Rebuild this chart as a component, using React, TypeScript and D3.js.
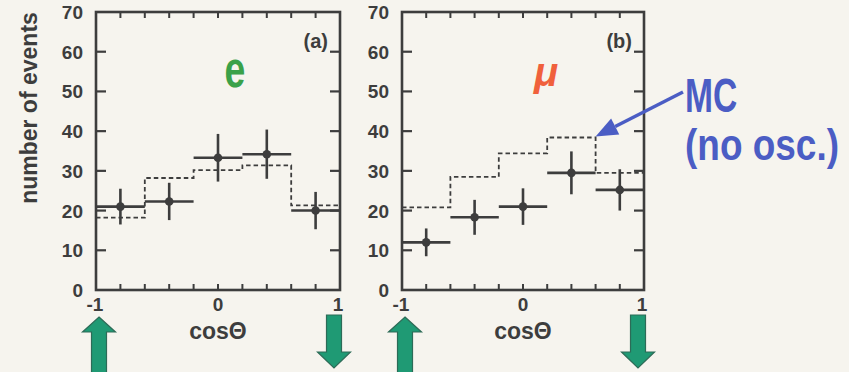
import React from "react";
import * as d3 from "d3";

const W = 849, H = 372;

// bin centers in cos(theta), width 0.4
const binCenters = [-0.8, -0.4, 0, 0.4, 0.8];
const binHalf = 0.2;

const eData = [21, 22.3, 33.3, 34.2, 20];
const eErr = [4.5, 4.7, 6, 6.2, 4.7];
const eMC = [18.2, 28.2, 30.2, 31.4, 21.3];

const muData = [12, 18.3, 21, 29.5, 25.2];
const muErr = [3.5, 4.4, 4.6, 5.4, 5.2];
const muMC = [20.8, 28.5, 34.4, 38.4, 29.5];

const yTicks = [0, 10, 20, 30, 40, 50, 60, 70];
const xLabelTicks = [-1, 0, 1];
const xMinorTicks = d3.range(-0.8, 0.81, 0.2);

const ink = "#3d3d3d";
const font = "'Liberation Sans', Arial, Helvetica, sans-serif";

const Arrow = ({ x, dir }: { x: number; dir: "up" | "down" }) => {
  // big green block arrows under the axis ends
  const sw = 7.5, hw = 16.5;
  const p = dir === "up"
    ? [[x, 317], [x + hw, 332], [x + sw, 332], [x + sw, 380], [x - sw, 380], [x - sw, 332], [x - hw, 332]]
    : [[x - sw, 315], [x + sw, 315], [x + sw, 352], [x + hw, 352], [x, 368], [x - hw, 352], [x - sw, 352]];
  return <polygon points={p.map(d => d.join(",")).join(" ")} fill="#1f9a74" stroke="#2d6b57" strokeWidth={1.2} />;
};

const Panel = ({ x0, x1, data, err, mc, tag }: any) => {
  const x = d3.scaleLinear().domain([-1, 1]).range([x0, x1]);
  const y = d3.scaleLinear().domain([0, 70]).range([290, 12]);

  const mcPts: [number, number][] = [];
  mc.forEach((v: number, i: number) => {
    mcPts.push([x(binCenters[i] - binHalf), y(v)]);
    mcPts.push([x(binCenters[i] + binHalf), y(v)]);
  });
  const mcPath = d3.line()(mcPts) || "";

  return (
    <g>
      {/* MC dashed histogram */}
      <path d={mcPath} fill="none" stroke={ink} strokeWidth={1.8} strokeDasharray="4.5,3" />

      {/* data points with errors */}
      {data.map((v: number, i: number) => (
        <g key={i}>
          <line x1={x(binCenters[i] - binHalf)} x2={x(binCenters[i] + binHalf)} y1={y(v)} y2={y(v)} stroke={ink} strokeWidth={2.6} />
          <line x1={x(binCenters[i])} x2={x(binCenters[i])} y1={y(v - err[i])} y2={y(v + err[i])} stroke={ink} strokeWidth={2.6} />
          <circle cx={x(binCenters[i])} cy={y(v)} r={4.3} fill={ink} />
        </g>
      ))}

      {/* frame */}
      <rect x={x0} y={12} width={x1 - x0} height={278} fill="none" stroke={ink} strokeWidth={2.6} />

      {/* y ticks both sides */}
      {yTicks.slice(1, -1).map(t => (
        <g key={t}>
          <line x1={x0} x2={x0 + 10} y1={y(t)} y2={y(t)} stroke={ink} strokeWidth={2.2} />
          <line x1={x1} x2={x1 - 10} y1={y(t)} y2={y(t)} stroke={ink} strokeWidth={2.2} />
        </g>
      ))}
      {yTicks.map(t => (
        <text key={t} x={x0 - 13} y={y(t) + 7} textAnchor="end" fontFamily={font} fontWeight="bold" fontSize={19} fill={ink}>{t}</text>
      ))}

      {/* x ticks top and bottom */}
      {xMinorTicks.map((t, i) => (
        <g key={i}>
          <line x1={x(t)} x2={x(t)} y1={290} y2={284} stroke={ink} strokeWidth={2} />
          <line x1={x(t)} x2={x(t)} y1={12} y2={18} stroke={ink} strokeWidth={2} />
        </g>
      ))}
      {xLabelTicks.map(t => (
        <text key={t} x={x(t) + (t === -1 ? -1 : t === 1 ? -2 : 0)} y={311} textAnchor="middle" fontFamily={font} fontWeight="bold" fontSize={19} fill={ink}>{t}</text>
      ))}
      <text x={x(0)} y={339} textAnchor="middle" fontFamily={font} fontWeight="bold" fontSize={23} fill={ink}>cosΘ</text>

      <text x={x1 - 12} y={48} textAnchor="end" fontFamily={font} fontWeight="bold" fontSize={20} fill={ink}>{tag}</text>

      <Arrow x={x(-1) + 3} dir="up" />
      <Arrow x={x(1) - 6} dir="down" />
    </g>
  );
};

export default function App() {
  const xb = d3.scaleLinear().domain([-1, 1]).range([402, 644]);
  const yb = d3.scaleLinear().domain([0, 70]).range([290, 12]);
  const tipX = xb(0.6), tipY = yb(muMC[3]) - 1;
  const startX = 683, startY = 92;
  const ang = Math.atan2(tipY - startY, tipX - startX);
  const hl = 22, hw = 9;
  const bx = tipX - hl * Math.cos(ang), by = tipY - hl * Math.sin(ang);
  const head = [
    [tipX, tipY],
    [bx + hw * Math.sin(ang), by - hw * Math.cos(ang)],
    [bx - hw * Math.sin(ang), by + hw * Math.cos(ang)],
  ];
  const blue = "#4b5dc4";

  return (
    <svg width={W} height={H} style={{ position: "absolute", left: 0, top: 0 }}>
      <rect width={W} height={H} fill="#f6f4ee" />
      <text transform="translate(37,108) rotate(-90)" textAnchor="middle" fontFamily={font} fontWeight="bold" fontSize={23} fill={ink}>number of events</text>

      <Panel x0={96} x1={340} data={eData} err={eErr} mc={eMC} tag="(a)" />
      <Panel x0={402} x1={644} data={muData} err={muErr} mc={muMC} tag="(b)" />

      <text x={235} y={87} textAnchor="middle" fontFamily={font} fontWeight="bold" fontSize={52} fill="#3aa149" transform="translate(235,0) scale(0.72,1) translate(-235,0)">e</text>
      <text x={546} y={86} textAnchor="middle" fontFamily={font} fontWeight="bold" fontStyle="italic" fontSize={40} fill="#f0603c">μ</text>

      <line x1={startX} y1={startY} x2={bx} y2={by} stroke={blue} strokeWidth={3.5} />
      <polygon points={head.map(d => d.join(",")).join(" ")} fill={blue} />
      <text transform="translate(685,112) scale(0.7,1)" fontFamily={font} fontWeight="bold" fontSize={48} fill={blue}>MC</text>
      <text transform="translate(685,160) scale(0.84,1)" fontFamily={font} fontWeight="bold" fontSize={44} fill={blue}>(no osc.)</text>
    </svg>
  );
}
